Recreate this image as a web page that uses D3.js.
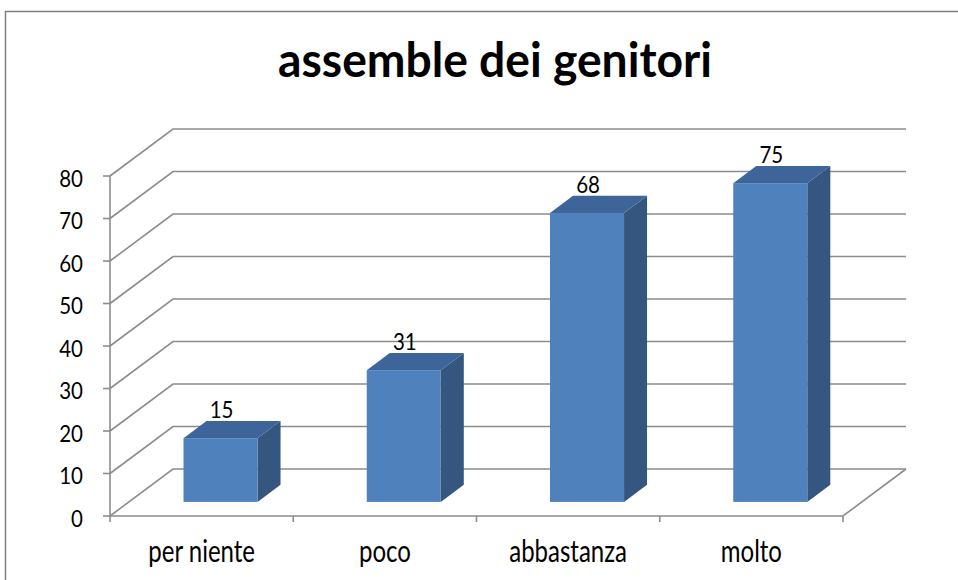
<!DOCTYPE html>
<html>
<head>
<meta charset="utf-8">
<script src="https://cdnjs.cloudflare.com/ajax/libs/d3/7.8.5/d3.min.js"></script>
<style>
  body { margin: 0; background: #fff; }
  svg { display: block; }
  text { font-family: Lato, "Open Sans", sans-serif; fill: #000; }
</style>
</head>
<body>
<svg width="958" height="580"></svg>
<script>
// dati del grafico
const titolo = "assemble dei genitori";
const categorie = ["per niente", "poco", "abbastanza", "molto"];
const valori = [15, 31, 68, 75];
const tickValori = [0, 10, 20, 30, 40, 50, 60, 70, 80];

const svg = d3.select("svg");

// cornice del grafico
svg.append("rect")
    .attr("x", 5.5).attr("y", 11.5)
    .attr("width", 980).attr("height", 600)
    .attr("fill", "#fff")
    .attr("stroke", "#808080")
    .attr("stroke-width", 1.5);

// prospettiva (profondità)
const DX = 63, DY = -47;
const D0 = 0.30, D1 = 0.665;

const y = d3.scaleLinear().domain([0, 80]).range([516, 176]);
const xCat = d3.scaleBand().domain(categorie).range([110, 843]).padding(0);
const xBar = d3.scaleBand().domain(categorie).range([110, 843])
    .paddingInner(0.596).paddingOuter(0.298);

function p(x, v, d) {
  return [x + d * DX, y(v) + d * DY];
}

// testo un po' allungato in verticale, come nell'originale
function testo(x, yy, str, size, sy, anchor) {
  return svg.append("text")
      .attr("transform", "translate(" + x + "," + yy + ") scale(1," + sy + ")")
      .attr("text-anchor", anchor || "middle")
      .style("font-size", size + "px")
      .text(str);
}

const grigio = "#8c8c8c";
const griglia = svg.append("g");

// linee della griglia (parete laterale + parete di fondo)
tickValori.forEach(function (t) {
  const a = p(xCat.range()[0], t, 0);
  const b = p(xCat.range()[0], t, 1);
  const c = p(xCat.range()[1], t, 1);
  griglia.append("polyline")
      .attr("points", [a, b, c].map(q => q.join(",")).join(" "))
      .attr("fill", "none")
      .attr("stroke", grigio)
      .attr("stroke-width", 1.6);
});

// pavimento
const f1 = p(xCat.range()[0], 0, 0);
const f2 = p(xCat.range()[1], 0, 0);
const f3 = p(xCat.range()[1], 0, 1);
griglia.append("polyline")
    .attr("points", [f1, f2, f3].map(q => q.join(",")).join(" "))
    .attr("fill", "none")
    .attr("stroke", grigio)
    .attr("stroke-width", 1.6);

// asse y
const asseY = svg.append("g").attr("transform", "translate(110,0)");
asseY.append("line")
    .attr("x1", 0).attr("x2", 0)
    .attr("y1", y(80)).attr("y2", y(0))
    .attr("stroke", grigio).attr("stroke-width", 1.6);
tickValori.forEach(function (t) {
  asseY.append("line")
      .attr("x1", -7).attr("x2", 0)
      .attr("y1", y(t)).attr("y2", y(t))
      .attr("stroke", grigio).attr("stroke-width", 1.6);
  testo(83, y(t) + 10.5, t, 20.5, 1.13, "end");
});

// tacche asse x
const tacche = xCat.domain().map(c => xCat(c)).concat([xCat.range()[1]]);
tacche.forEach(function (tx) {
  svg.append("line")
      .attr("x1", tx).attr("x2", tx)
      .attr("y1", y(0)).attr("y2", y(0) + 6)
      .attr("stroke", grigio).attr("stroke-width", 1.6);
});

// etichette categorie
categorie.forEach(function (c) {
  testo(xCat(c) + xCat.bandwidth() / 2, 562, c, 24, 1.28);
});

// barre 3D
const barre = svg.append("g");
valori.forEach(function (v, i) {
  const c = categorie[i];
  const x0 = xBar(c), x1 = xBar(c) + xBar.bandwidth();
  const pts = q => q.map(r => r.join(",")).join(" ");

  // faccia laterale
  barre.append("polygon")
      .attr("points", pts([p(x1, 0, D0), p(x1, 0, D1), p(x1, v, D1), p(x1, v, D0)]))
      .attr("fill", "#34567f");
  // faccia superiore
  barre.append("polygon")
      .attr("points", pts([p(x0, v, D0), p(x1, v, D0), p(x1, v, D1), p(x0, v, D1)]))
      .attr("fill", "#3d6599");
  // faccia frontale
  const a = p(x0, v, D0), b = p(x1, 0, D0);
  barre.append("rect")
      .attr("x", a[0]).attr("y", a[1])
      .attr("width", b[0] - a[0]).attr("height", b[1] - a[1])
      .attr("fill", "#4f81bd");

  // etichetta valore
  testo((a[0] + b[0]) / 2 + 1, p(x0, v, D1)[1] - 3, v, 20.5, 1.13);
});

// titolo
const t = svg.append("text")
    .attr("text-anchor", "middle")
    .style("font-weight", "bold")
    .style("font-size", "100px")
    .text(titolo);
const larghezza = t.node().getComputedTextLength();
const fs = 100 * 434 / larghezza;
t.style("font-size", fs + "px")
    .attr("transform", "translate(495,77) scale(1," + (24 / (0.51 * fs)) + ")");
</script>
</body>
</html>
